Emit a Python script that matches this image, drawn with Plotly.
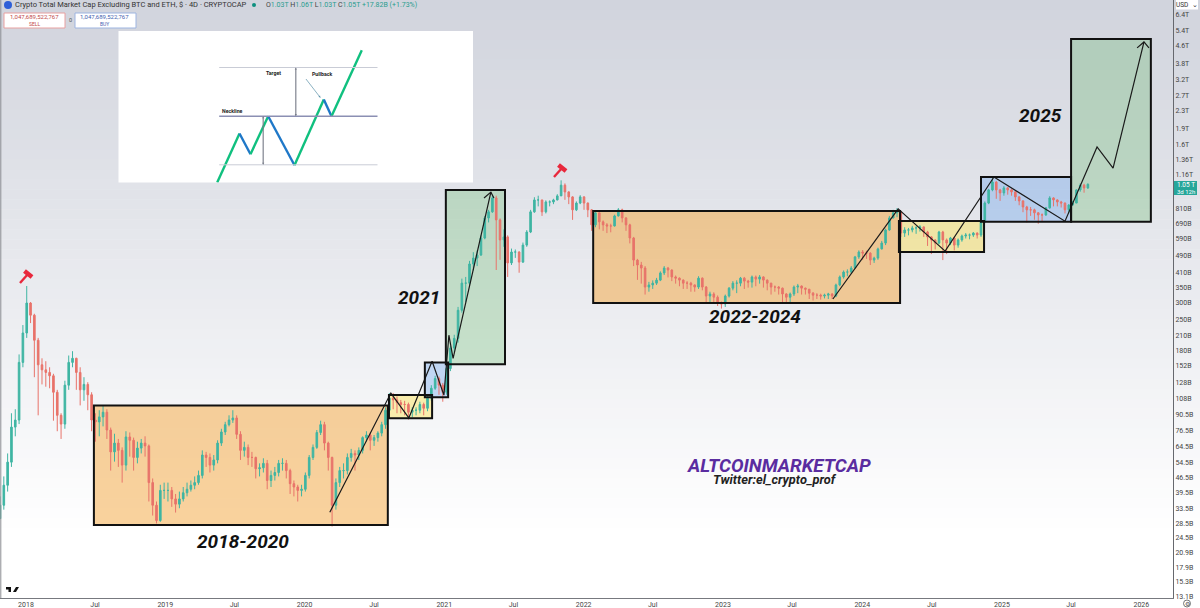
"""Altcoin market cap (TOTAL3) 4D chart with hand-drawn breakout boxes."""

import pandas as pd
import plotly.graph_objects as go

# candles, one every 10 days, in billions of USD
candle_start = "2017-10-25"
first_open = 30.0
closes = [
    34.6, 42.8, 54.7, 79.4, 85.6, 158, 216, 297, 261, 200,
    154, 146, 142, 137, 115, 90, 82, 124, 158, 165,
    142, 118, 125, 112, 85.6, 83.9, 88.5, 93, 77, 61,
    67, 62, 53, 71.5, 69, 57.5, 63.5, 67, 65, 44,
    34.6, 29.4, 40.5, 40.5, 40.5, 37, 35, 37, 39.5, 41,
    42.8, 44, 47.5, 59, 57.5, 53, 56, 67, 75.4, 81.5,
    85.6, 87.5, 73.5, 62, 64, 57.5, 57.5, 51, 51.5, 54,
    45, 47.5, 49, 54, 54, 50, 43.5, 42, 40.5, 41,
    47.5, 57.5, 64, 75, 81.5, 67, 57.5, 34.6, 44, 50,
    50, 57.5, 60, 59, 62, 71, 73, 69, 71, 74.5,
    81.5, 95, 108, 106, 103, 101, 101, 93, 95, 95,
    101, 97, 108, 120, 133, 124, 115, 148, 184, 204,
    275, 367, 367, 450, 479, 495, 593, 734, 783, 908,
    719, 581, 600, 455, 511, 511, 459, 550, 632, 783,
    889, 889, 783, 870, 870, 889, 928, 1040, 968, 918,
    800, 860, 918, 860, 800, 682, 775, 704, 682, 674,
    674, 750, 800, 734, 682, 593, 469, 445, 431, 352,
    360, 367, 379, 409, 431, 422, 392, 387, 379, 367,
    367, 360, 352, 387, 352, 320, 327, 316, 297, 294,
    320, 348, 367, 367, 387, 375, 371, 392, 383, 392,
    379, 367, 352, 352, 348, 327, 316, 327, 352, 356,
    348, 344, 330, 323, 323, 320, 323, 327, 320, 360,
    392, 413, 413, 431, 485, 511, 505, 505, 469, 479,
    528, 562, 646, 734, 775, 783, 625, 646, 646, 660,
    660, 667, 632, 600, 581, 562, 632, 581, 562, 593,
    550, 581, 606, 612, 612, 625, 612, 704, 860, 989,
    1075, 989, 958, 1010, 989, 968, 918, 880, 825, 800,
    800, 775, 758, 758, 817, 908, 889, 870, 860, 800,
    842, 860, 989, 1040, 1010, 1050,
]
highs = [
    38, 47, 60, 92, 96, 172, 235, 356, 300, 265,
    205, 165, 160, 150, 140, 118, 92, 130, 170, 178,
    166, 150, 135, 128, 115, 92, 95, 100, 96, 79,
    74, 70, 64, 76, 75, 71, 68, 70, 72, 66,
    46, 36, 43, 44, 44, 42, 39, 40, 42, 44,
    45, 47, 50, 62, 61, 60, 59, 69, 78, 84,
    90, 95, 90, 76, 68, 66, 61, 58, 54, 57,
    56, 50, 52, 56, 57, 56, 51, 45, 43, 43,
    49, 59, 66, 77, 85, 84, 68, 58, 46, 52,
    54, 60, 63, 62, 64, 72, 76, 75, 73, 76,
    84, 98, 114, 114, 110, 106, 105, 103, 98, 98,
    104, 103, 112, 124, 137, 136, 127, 150, 188, 212,
    285, 385, 392, 465, 510, 520, 610, 750, 800, 930,
    930, 730, 650, 610, 530, 525, 515, 565, 645, 800,
    915, 930, 890, 885, 885, 900, 945, 1095, 1060, 975,
    925, 875, 935, 925, 865, 805, 790, 780, 715, 695,
    690, 760, 815, 810, 740, 690, 600, 475, 460, 440,
    372, 378, 388, 416, 440, 436, 425, 398, 390, 382,
    375, 372, 362, 395, 390, 356, 335, 333, 322, 302,
    325, 352, 375, 378, 392, 392, 380, 398, 398, 400,
    395, 382, 368, 358, 356, 350, 330, 332, 358, 364,
    358, 350, 345, 334, 330, 328, 328, 331, 330, 365,
    398, 420, 425, 440, 490, 520, 522, 518, 510, 486,
    535, 575, 655, 750, 800, 815, 790, 665, 660, 675,
    672, 680, 670, 640, 605, 585, 640, 640, 590, 600,
    600, 590, 615, 625, 622, 632, 630, 710, 875, 1000,
    1120, 1085, 1000, 1030, 1020, 1000, 975, 925, 885, 835,
    825, 810, 780, 770, 825, 925, 915, 895, 880, 865,
    850, 880, 995, 1060, 1055, 1060,
]
lows = [
    30, 33, 40, 52, 72, 82, 150, 205, 240, 135,
    90, 125, 122, 120, 85, 76, 70, 78, 118, 150,
    118, 100, 105, 95, 76, 68, 72, 80, 70, 50,
    55, 52, 44, 50, 58, 50, 54, 60, 58, 36,
    31, 28.5, 29, 37, 36, 34, 32, 33.5, 36, 38,
    40, 41, 43, 46, 52, 49, 50, 54, 65, 73,
    80, 83, 70, 56, 58, 53, 52, 46, 47, 49,
    41, 42, 45, 47, 50, 46, 39, 38, 36, 38,
    40, 46, 56, 63, 73, 62, 50, 27.6, 33, 42,
    46, 48, 55, 50, 56, 60, 68, 62, 65, 68,
    72, 78, 93, 96, 92, 92, 90, 86, 88, 90,
    92, 90, 94, 105, 118, 112, 104, 112, 144, 176,
    195, 268, 300, 360, 420, 440, 490, 585, 700, 775,
    422, 470, 540, 392, 445, 480, 410, 455, 540, 625,
    775, 830, 750, 770, 830, 850, 885, 930, 890, 850,
    719, 790, 850, 800, 740, 640, 665, 650, 640, 625,
    630, 670, 745, 700, 640, 560, 440, 380, 365, 325,
    335, 345, 360, 375, 400, 390, 375, 365, 355, 345,
    345, 335, 335, 345, 340, 300, 300, 295, 288, 280,
    285, 315, 340, 330, 355, 345, 350, 350, 355, 365,
    350, 340, 325, 335, 325, 300, 300, 295, 320, 330,
    325, 325, 310, 305, 310, 308, 312, 310, 310, 316,
    355, 385, 395, 405, 430, 475, 470, 475, 445, 455,
    470, 525, 550, 640, 730, 740, 600, 600, 610, 630,
    620, 635, 600, 545, 500, 525, 555, 469, 500, 550,
    520, 535, 570, 590, 585, 600, 590, 600, 695, 850,
    975, 900, 880, 930, 940, 930, 880, 840, 780, 700,
    750, 720, 690, 710, 750, 810, 830, 830, 820, 770,
    770, 840, 860, 970, 960, 1000,
]

price_ticks = [
    6400, 5400, 4600, 3800, 3200, 2700, 2300, 1900, 1600, 1360, 1160,
    810, 690, 590, 490, 410, 350, 300, 250, 210, 180, 152, 128, 108,
    90.5, 76.5, 64.5, 54.5, 46.5, 39.5, 33.5, 28.5, 24.5, 20.9, 17.9, 15.3, 13.1,
]
price_labels = [
    "6.4T", "5.4T", "4.6T", "3.8T", "3.2T", "2.7T", "2.3T", "1.9T", "1.6T", "1.36T", "1.16T",
    "810B", "690B", "590B", "490B", "410B", "350B", "300B", "250B", "210B", "180B", "152B", "128B", "108B",
    "90.5B", "76.5B", "64.5B", "54.5B", "46.5B", "39.5B", "33.5B", "28.5B", "24.5B", "20.9B", "17.9B", "15.3B", "13.1B",
]
date_ticks = [
    "2018-01-01", "2018-07-01", "2019-01-01", "2019-07-01", "2020-01-01", "2020-07-01",
    "2021-01-01", "2021-07-01", "2022-01-01", "2022-07-01", "2023-01-01", "2023-07-01",
    "2024-01-01", "2024-07-01", "2025-01-01", "2025-07-01", "2026-01-01",
]
date_labels = [
    "2018", "Jul", "2019", "Jul", "2020", "Jul", "2021", "Jul", "2022", "Jul",
    "2023", "Jul", "2024", "Jul", "2025", "Jul", "2026",
]

# drawn boxes: start, end, low, high, fill
boxes = [
    ("2018-06-28", "2020-08-06", 28.0, 100, "rgba(245,162,50,0.475)"),
    ("2020-08-09", "2020-11-30", 87.3, 111.6, "rgba(255,225,60,0.4)"),
    ("2020-11-11", "2021-01-11", 109, 158, "rgba(80,150,240,0.3)"),
    ("2021-01-05", "2021-06-09", 155, 988, "rgba(76,175,80,0.25)"),
    ("2022-01-26", "2024-04-09", 297, 790, "rgba(245,162,50,0.475)"),
    ("2024-04-06", "2024-11-15", 511, 710, "rgba(255,225,60,0.4)"),
    ("2024-11-07", "2025-07-01", 704, 1134, "rgba(80,150,240,0.3)"),
    ("2025-07-01", "2026-01-26", 704, 4920, "rgba(76,175,80,0.25)"),
]

# drawn zigzags
path_a_dates = ["2020-03-07", "2020-08-14", "2020-09-30", "2020-11-30", "2020-12-31", "2021-01-13", "2021-01-24", "2021-05-03"]
path_a_prices = [32.1, 114, 87.5, 160, 111.6, 211, 165, 966]
head_a_dates = ["2021-04-15", "2021-05-03", "2021-05-11"]
head_a_prices = [907, 966, 907]
path_b_dates = ["2023-10-16", "2024-04-04", "2024-08-05", "2024-12-11", "2025-06-15", "2025-09-07", "2025-10-19", "2026-01-08"]
path_b_prices = [310, 808, 516, 1134, 709, 1561, 1248, 4770]
head_b_dates = ["2025-12-21", "2026-01-08", "2026-01-21"]
head_b_prices = [4480, 4770, 4480]

# double bottom sketch in the inset, free units
inset_x = [98.7, 121, 132, 149.7, 176, 205.3, 213, 243.3]
inset_y = [0, 49, 28.3, 66.3, 17.3, 83, 66.3, 132.3]
inset_colors = ["#10c07f", "#1f78c8", "#10c07f", "#1f78c8", "#10c07f", "#1f78c8", "#10c07f"]

W, H, PLOT_B, PLOT_R = 1200, 608, 598, 1173


def px(x):
    return x / W


def py(y):
    return (PLOT_B - y) / PLOT_B


def paper_rect(x0, y0, x1, y1, **kw):
    return dict(type="rect", xref="paper", yref="paper", x0=px(x0), x1=px(x1), y0=py(y0), y1=py(y1), **kw)


def paper_line(x0, y0, x1, y1, color, width, layer="above"):
    return dict(type="line", xref="paper", yref="paper", x0=px(x0), x1=px(x1), y0=py(y0), y1=py(y1),
                line=dict(color=color, width=width), layer=layer)


def paper_poly(points, fill):
    path = " ".join(f"{'M' if i == 0 else 'L'}{px(x):.5f},{py(y):.5f}" for i, (x, y) in enumerate(points))
    return dict(type="path", xref="paper", yref="paper", path=path + " Z", fillcolor=fill, line_width=0)


def label(x, y, text, size, color="#111", bold=False, italic=False, font="Roboto", anchor="center"):
    if bold:
        text = f"<b>{text}</b>"
    if italic:
        text = f"<i>{text}</i>"
    return dict(xref="paper", yref="paper", x=px(x), y=py(y), text=text, showarrow=False, xanchor=anchor,
                yanchor="middle", font=dict(family=font, size=size, color=color), borderpad=0, borderwidth=0)


opens = [first_open] + closes[:-1]
candle_dates = pd.date_range(candle_start, periods=len(closes), freq="10D")

fig = go.Figure()
fig.add_trace(go.Candlestick(
    x=candle_dates, open=opens, high=highs, low=lows, close=closes,
    increasing=dict(line=dict(color="#3fb5a3", width=1), fillcolor="#3fb5a3"),
    decreasing=dict(line=dict(color="#e8736a", width=1), fillcolor="#e8736a"),
    whiskerwidth=0, showlegend=False, hoverinfo="skip",
))

for dates, prices in [(path_a_dates, path_a_prices), (head_a_dates, head_a_prices),
                      (path_b_dates, path_b_prices), (head_b_dates, head_b_prices)]:
    fig.add_trace(go.Scatter(x=dates, y=prices, mode="lines", line=dict(color="#1a1a1a", width=1.2),
                             showlegend=False, hoverinfo="skip"))

# inset sketch has its own little axes
for i, color in enumerate(inset_colors):
    fig.add_trace(go.Scatter(x=inset_x[i:i + 2], y=inset_y[i:i + 2], mode="lines", xaxis="x2", yaxis="y2",
                             line=dict(color=color, width=2.4), showlegend=False, hoverinfo="skip"))
for level, color, width in [(115, "#c9ccd6", 1), (66.3, "#8b8fb3", 1.4), (17.7, "#c9ccd6", 1)]:
    fig.add_trace(go.Scatter(x=[100.7, 259], y=[level, level], mode="lines", xaxis="x2", yaxis="y2",
                             line=dict(color=color, width=width), showlegend=False, hoverinfo="skip"))

shapes = []
# page background fades from grey to white
STRIPS = 60
for i in range(STRIPS):
    t = min(i / (STRIPS - 1) / 0.9, 1)
    r, g, b = (round(a + (255 - a) * t) for a in (209, 212, 221))
    top, bottom = PLOT_B * i / STRIPS, PLOT_B * (i + 1) / STRIPS
    shapes.append(paper_rect(0, top, W, bottom + 0.5, fillcolor=f"rgb({r},{g},{b})", line_width=0, layer="below"))

shapes.append(paper_rect(118.5, 31, 473, 182.5, fillcolor="white", line_width=0, layer="below"))

for x0, x1, low, high, fill in boxes:
    shapes.append(dict(type="rect", xref="x", yref="y", x0=x0, x1=x1, y0=low, y1=high,
                       fillcolor=fill, line_width=0, layer="below"))
for x0, x1, low, high, fill in boxes:
    shapes.append(dict(type="rect", xref="x", yref="y", x0=x0, x1=x1, y0=low, y1=high,
                       line=dict(color="#111", width=2), layer="above"))

# hammers on the cycle tops
for hx, hy in [(27, 276), (561, 170)]:
    shapes.append(paper_line(hx - 7, hy + 7, hx + 1, hy - 2, "#e8283c", 2.4))
    shapes.append(paper_line(hx - 2.5, hy - 5, hx + 5, hy + 1, "#e8283c", 4.5))

# left edge, price tag, header boxes, logo
shapes.append(paper_line(0.8, 0, 0.8, PLOT_B, "#8a8c92", 1))
shapes.append(paper_rect(1174, 181, 1197, 195, fillcolor="#26a69a", line_width=0))
shapes.append(paper_rect(1176, 0, 1198, 9.5, fillcolor="white", line_width=0))
shapes.append(paper_rect(4, 13, 65, 28, fillcolor="white", line=dict(color="#e8a0a0", width=1)))
shapes.append(paper_rect(75, 13, 136, 28, fillcolor="white", line=dict(color="#9db4e0", width=1)))
shapes.append(dict(type="circle", xref="paper", yref="paper", x0=px(4), x1=px(12), y0=py(9), y1=py(1),
                   fillcolor="#2f5fd8", line_width=0))
shapes.append(dict(type="circle", xref="paper", yref="paper", x0=px(252), x1=px(256), y0=py(7), y1=py(3),
                   fillcolor="#0d8f7f", line_width=0))
shapes.append(dict(type="circle", xref="paper", yref="paper", x0=px(1183.5), x1=px(1190.5), y0=py(607), y1=py(600),
                   line=dict(color="#555", width=0.8)))
shapes.append(paper_poly([(6, 587), (11, 587), (11, 592), (8.5, 592), (8.5, 589.5), (6, 589.5)], "#111"))
shapes.append(paper_poly([(13, 592), (16, 587), (19, 587), (16, 592)], "#111"))

annotations = [
    label(243, 541, "2018-2020", 19, bold=True, italic=True),
    label(419, 297, "2021", 19, bold=True, italic=True),
    label(755, 316, "2022-2024", 19, bold=True, italic=True),
    label(1040, 116, "2025", 19, bold=True, italic=True),
    label(778.5, 466, "ALTCOINMARKETCAP", 18.8, color="#5a2ca0", bold=True, italic=True),
    label(774.5, 479.5, "Twitter:el_crypto_prof", 12.8, color="#222", bold=True, italic=True),
    label(15, 5, "Crypto Total Market Cap Excluding BTC and ETH, $ · 4D · CRYPTOCAP", 7.5, color="#333", anchor="left"),
    label(266, 5, "O<span style='color:#2a9d8f'>1.03T</span> H<span style='color:#2a9d8f'>1.06T</span> "
                  "L<span style='color:#2a9d8f'>1.03T</span> C<span style='color:#2a9d8f'>1.05T</span> "
                  "<span style='color:#2a9d8f'>+17.82B (+1.73%)</span>", 7, color="#444", anchor="left"),
    label(34.5, 17, "1,047,689,522,767", 6, color="#c24a4a"),
    label(34.5, 23.5, "SELL", 5, color="#c24a4a"),
    label(104.5, 17, "1,047,689,522,767", 6, color="#3f62b0"),
    label(104.5, 23.5, "BUY", 5, color="#3f62b0"),
    label(70, 20, "0", 5.5, color="#555"),
    label(1185.5, 185, "1.05 T", 6.5, color="white"),
    label(1185.5, 191, "3d 12h", 6, color="white"),
    label(1187, 5, "USD  ⌄", 6.5, color="#333"),
    label(1187, 603.5, "⚙", 6, color="#555"),
]
# inset texts and its arrows
for text, x, y in [("Target", 155, 109), ("Pullback", 203, 108), ("Neckline", 114, 71.7)]:
    annotations.append(dict(xref="x2", yref="y2", x=x, y=y, text=f"<b>{text}</b>", showarrow=False,
                            font=dict(family="Roboto", size=5.2, color="#222")))
for x0, y0, x1, y1, color in [(177.3, 115, 177.3, 66.3, "#777b88"), (177.3, 66.3, 177.3, 115, "#777b88"),
                              (144.7, 66.3, 144.7, 17.7, "#777b88"), (144.7, 17.7, 144.7, 66.3, "#777b88"),
                              (186.3, 105, 202, 84.7, "#5a90a8")]:
    annotations.append(dict(xref="x2", yref="y2", axref="x2", ayref="y2", x=x1, y=y1, ax=x0, ay=y0, text="",
                            showarrow=True, arrowhead=2, arrowsize=0.6, arrowwidth=0.7, arrowcolor=color))

axis_font = dict(family="Roboto", size=7, color="#444")
fig.update_layout(
    width=W, height=H, autosize=False,
    margin=dict(l=0, r=0, t=0, b=H - PLOT_B, pad=0),
    paper_bgcolor="white", plot_bgcolor="rgba(0,0,0,0)", boxgap=0.4,
    showlegend=False, shapes=shapes, annotations=annotations,
    xaxis=dict(
        domain=[0, PLOT_R / W], range=["2017-10-25", "2026-03-25"], rangeslider=dict(visible=False),
        tickmode="array", tickvals=date_ticks, ticktext=date_labels, tickfont=axis_font, ticks="",
        showgrid=False, zeroline=False, showline=True, linecolor="#77797f", linewidth=1,
    ),
    yaxis=dict(
        type="log", side="right", range=[1.1106, 3.8722],
        tickmode="array", tickvals=price_ticks, ticktext=price_labels, tickfont=axis_font, ticks="",
        showgrid=False, zeroline=False, showline=True, linecolor="#66686e", linewidth=1,
    ),
    xaxis2=dict(domain=[px(118.5), px(473)], range=[0, 354.5], anchor="y2", visible=False, fixedrange=True),
    yaxis2=dict(domain=[py(182.5), py(31)], range=[0, 151.5], anchor="x2", visible=False, fixedrange=True),
)

# page margin would push the fixed-size figure off the window
fig.write_html("out.html", config=dict(displayModeBar=False), post_script="document.body.style.margin='0';")
